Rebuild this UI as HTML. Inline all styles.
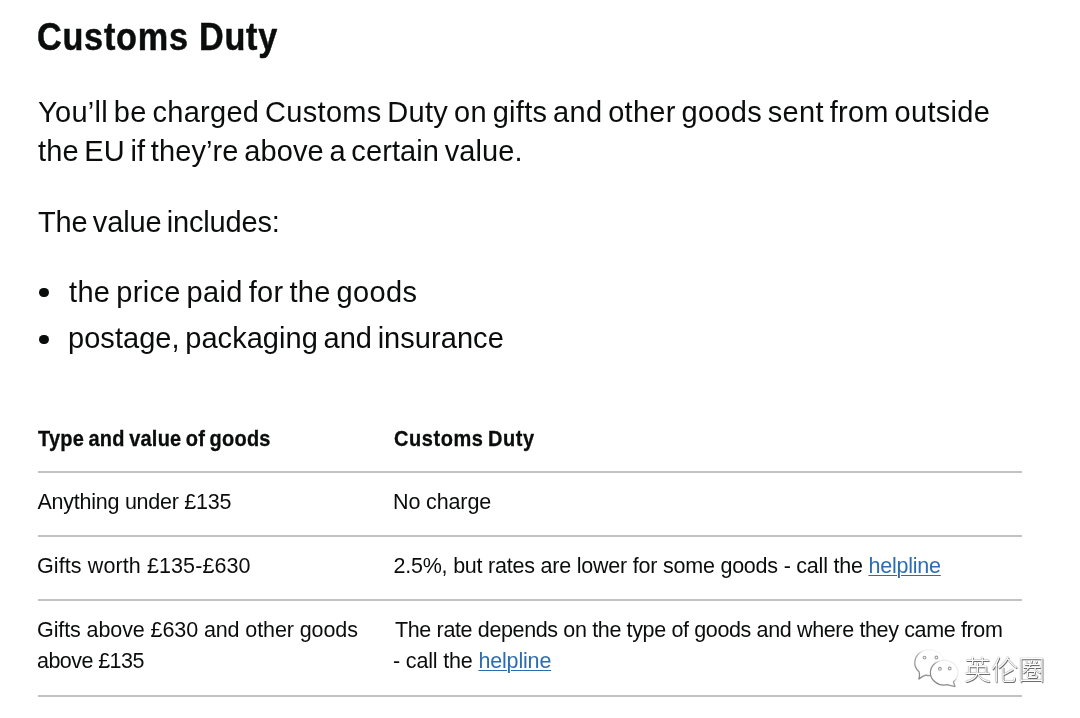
<!DOCTYPE html>
<html lang="en">
<head>
<meta charset="utf-8">
<title>Customs Duty</title>
<style>
html,body{margin:0;padding:0;background:#fff;}
body{width:1080px;height:718px;overflow:hidden;position:relative;color:#0b0c0c;
  font-family:"Liberation Sans",Arial,sans-serif;}
.ln{position:absolute;white-space:nowrap;line-height:1;margin:0;padding:0;font-weight:400;text-align:left;}
.hd{font-weight:700;-webkit-text-stroke:0.5px #0b0c0c;}
.th{font-weight:700;-webkit-text-stroke:0.3px #0b0c0c;}
ul{margin:0;padding:0;list-style:none;}
table{border-collapse:collapse;}
.dot{position:absolute;width:9.5px;height:9.5px;border-radius:50%;background:#0b0c0c;}
.rule{position:absolute;left:38px;width:984px;height:2px;background:#c3c3c3;}
a{color:#2c6db0;text-decoration:underline;text-decoration-thickness:1px;text-underline-offset:2px;}
.wm{position:absolute;left:0;top:0;width:0;height:0;}
.wmlogo{position:absolute;left:905px;top:645px;}
.wmtext{position:absolute;left:964px;top:655px;white-space:nowrap;font-family:"Noto Sans CJK SC","WenQuanYi Zen Hei",sans-serif;font-weight:300;font-size:27px;line-height:1;color:#fff;letter-spacing:0px;
  text-shadow:0 0 1px rgba(0,0,0,.75),0.8px 0.8px 0.6px rgba(0,0,0,.55);}
.page{position:absolute;left:0;top:0;width:1080px;height:718px;display:block;filter:blur(0.35px);}

</style>
</head>
<body>
<main class="page">
<h2 class="ln hd" id="h" style="left:37.00px;top:18.00px;font-size:38px;letter-spacing:0.848px;transform:scaleX(0.9);transform-origin:0 0;">Customs Duty</h2>
<p class="ln" id="p1" style="left:38.00px;top:98.00px;font-size:29px;letter-spacing:0.285px;word-spacing:-2.500px;">You’ll be charged Customs Duty on gifts and other goods sent from outside</p>
<p class="ln" id="p2" style="left:38.00px;top:137.00px;font-size:29px;letter-spacing:0.103px;word-spacing:-2.500px;">the EU if they’re above a certain value.</p>
<p class="ln" id="p3" style="left:38.00px;top:208.00px;font-size:29px;letter-spacing:-0.167px;word-spacing:-2.500px;">The value includes:</p>
<ul>
<li><span class="dot" style="left:39.10px;top:287.75px;"></span><span class="ln" id="l1" style="left:69.00px;top:278.00px;font-size:29px;letter-spacing:0.333px;word-spacing:-2.500px;">the price paid for the goods</span></li>
<li><span class="dot" style="left:39.10px;top:334.65px;"></span><span class="ln" id="l2" style="left:68.00px;top:324.00px;font-size:29px;letter-spacing:0.048px;word-spacing:-2.500px;">postage, packaging and insurance</span></li>
</ul>
<table><thead><tr>
<th class="ln th" id="th1" style="left:37.50px;top:429.00px;font-size:21.5px;letter-spacing:0.251px;word-spacing:-1.500px;transform:scaleX(0.93);transform-origin:0 0;">Type and value of goods</th>
<th class="ln th" id="th2" style="left:394.00px;top:429.00px;font-size:21.5px;letter-spacing:0.593px;word-spacing:-1.500px;transform:scaleX(0.93);transform-origin:0 0;">Customs Duty</th>
</tr></thead><tbody><tr>
<td class="ln" id="r1a" style="left:37.50px;top:492.00px;font-size:21.5px;letter-spacing:-0.250px;">Anything under £135</td>
<td class="ln" id="r1b" style="left:393.00px;top:492.00px;font-size:21.5px;letter-spacing:-0.125px;">No charge</td>
</tr><tr>
<td class="ln" id="r2a" style="left:37.00px;top:556.00px;font-size:21.5px;letter-spacing:0.100px;">Gifts worth £135-£630</td>
<td class="ln" id="r2b" style="left:393.50px;top:556.00px;font-size:21.5px;letter-spacing:-0.220px;">2.5%, but rates are lower for some goods - call the <a href="#">helpline</a></td>
</tr><tr>
<td class="ln" id="r3a" style="left:37.00px;top:620.00px;font-size:21.5px;letter-spacing:-0.097px;">Gifts above £630 and other goods</td>
<td class="ln" id="r3b" style="left:395.00px;top:620.00px;font-size:21.5px;letter-spacing:-0.361px;">The rate depends on the type of goods and where they came from</td>
</tr><tr>
<td class="ln" id="r4a" style="left:37.00px;top:651.00px;font-size:21.5px;letter-spacing:-0.556px;">above £135</td>
<td class="ln" id="r4b" style="left:393.00px;top:651.00px;font-size:21.5px;letter-spacing:-0.167px;">- call the <a href="#">helpline</a></td>
</tr></tbody></table>
<div class="rule" style="top:471px;"></div>
<div class="rule" style="top:535px;"></div>
<div class="rule" style="top:599px;"></div>
<div class="rule" style="top:695px;"></div>
<div class="wm" aria-label="英伦圈">
<svg class="wmlogo" width="60" height="50" viewBox="905 645 60 50">
<defs>
<linearGradient id="g1" x1="1" y1="0" x2="0" y2="1">
<stop offset="0" stop-color="#fbfbfb"/><stop offset="0.38" stop-color="#efefef"/><stop offset="0.56" stop-color="#a8a8a8"/><stop offset="1" stop-color="#7a7a7a"/>
</linearGradient>
<linearGradient id="g2" x1="1" y1="0" x2="0" y2="1">
<stop offset="0" stop-color="#f6f6f6"/><stop offset="0.35" stop-color="#e6e6e6"/><stop offset="0.5" stop-color="#9a9a9a"/><stop offset="1" stop-color="#777"/>
</linearGradient>
</defs>
<g fill="#fff" stroke-width="1.25" stroke-linecap="round" stroke-linejoin="round">
<path stroke="url(#g1)" d="M925.55 675.16 A14.5 13 0 1 0 919.05 671.79 Q920.3 675.5 918.9 679.0 Q921.5 676.6 925.55 675.16 Z"/>
<path stroke="url(#g2)" d="M947.07 684.73 A13.8 12.4 0 1 1 953.43 681.81 Q954.2 684.0 955.0 686.7 Q951.0 685.6 947.07 684.73 Z"/>
</g>
<g fill="none" stroke="#9c9c9c" stroke-width="1.1">
<circle cx="924.5" cy="657.6" r="1.4"/><circle cx="936.4" cy="657.5" r="1.4"/>
<circle cx="939.9" cy="668.8" r="1.4"/><circle cx="949.7" cy="668.5" r="1.4"/>
</g>
</svg>
<span class="wmtext">英伦圈</span>
</div>

</main>
</body>
</html>
